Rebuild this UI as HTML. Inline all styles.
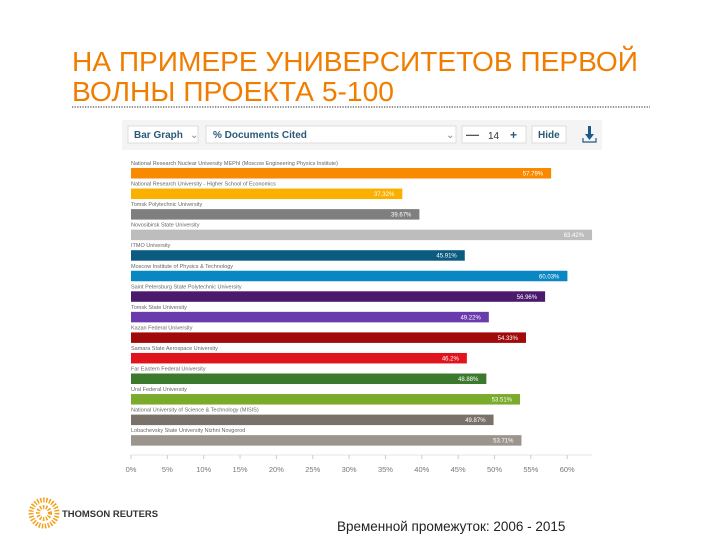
<!DOCTYPE html>
<html><head><meta charset="utf-8"><style>
html,body{margin:0;padding:0;background:#fff;}
svg{display:block;font-family:"Liberation Sans",sans-serif;}
</style></head><body>
<svg id="c" width="720" height="540" viewBox="0 0 720 540">
<g fill="#f07d00" font-size="28">
<text x="72" y="71" textLength="566" lengthAdjust="spacingAndGlyphs">НА ПРИМЕРЕ УНИВЕРСИТЕТОВ ПЕРВОЙ</text>
<text x="72" y="101" textLength="322" lengthAdjust="spacingAndGlyphs">ВОЛНЫ ПРОЕКТА 5-100</text>
</g>
<line x1="72" y1="107" x2="650" y2="107" stroke="#555" stroke-width="1.3" stroke-dasharray="1.3,1.3"/>
<g font-size="10" font-weight="bold" fill="#2a5a7a">
<rect x="122" y="120" width="480" height="30" fill="#f4f4f4"/>
<rect x="128" y="126" width="70" height="17" fill="#fff" stroke="#ddd"/>
<text x="134" y="138" fill="#2a5a7a">Bar Graph</text><text x="190" y="138" fill="#888" font-weight="normal">⌄</text>
<rect x="206" y="126" width="250" height="17" fill="#fff" stroke="#ddd"/>
<text x="213" y="138">% Documents Cited</text><text x="446" y="138" fill="#888" font-weight="normal">⌄</text>
<rect x="462" y="126" width="64" height="17" fill="#fff" stroke="#ddd"/>
<text x="466" y="139" font-size="13" fill="#555">—</text><text x="488" y="139" fill="#333" font-weight="normal">14</text><text x="510" y="139" font-size="12" fill="#2a5a7a">+</text>
<rect x="532" y="126" width="34" height="17" fill="#fff" stroke="#ddd"/>
<text x="538" y="138">Hide</text>
<g fill="#1a5a8a"><rect x="588" y="126" width="3" height="9"/><path d="M585 134 L594 134 L589.5 140Z"/><path d="M583 138 v4 h13 v-4" fill="none" stroke="#1a5a8a" stroke-width="1.2"/></g>
</g>
<g id="plot"></g>
<g>
<text x="337" y="531" font-size="13.5" fill="#222">Временной промежуток: 2006 - 2015</text>
<g>
<circle cx="44" cy="513" r="13" fill="none" stroke="#f3a21c" stroke-width="5" stroke-dasharray="1.5,1.5"/>
<circle cx="44" cy="513" r="6" fill="none" stroke="#f3a21c" stroke-width="4" stroke-dasharray="1.5,1.5"/>
<text x="62" y="517" font-size="9.5" font-weight="bold" fill="#333" textLength="96" lengthAdjust="spacingAndGlyphs">THOMSON REUTERS</text>
</g></g>
</svg>
<script>
const categories=["National Research Nuclear University MEPhI (Moscow Engineering Physics Institute)","National Research University - Higher School of Economics","Tomsk Polytechnic University","Novosibirsk State University","ITMO University","Moscow Institute of Physics & Technology","Saint Petersburg State Polytechnic University","Tomsk State University","Kazan Federal University","Samara State Aerospace University","Far Eastern Federal University","Ural Federal University","National University of Science & Technology (MISIS)","Lobachevsky State University Nizhni Novgorod"];
const values=[57.79,37.32,39.67,63.42,45.91,60.03,56.96,49.22,54.33,46.2,48.88,53.51,49.87,53.71];
const valueLabels=["57.79%","37.32%","39.67%","63.42%","45.91%","60.03%","56.96%","49.22%","54.33%","46.2%","48.88%","53.51%","49.87%","53.71%"];
const barColors=["#f98a00","#fbb000","#7f7f7f","#bdbdbd","#0b5a80","#0987c2","#4b1a6d","#6a3bab","#a10a0a","#e0141c","#3b7a2c","#7aab2a","#7a716b","#9b958d"];
const ticks=[0,5,10,15,20,25,30,35,40,45,50,55,60];
const tickLabels=["0%","5%","10%","15%","20%","25%","30%","35%","40%","45%","50%","55%","60%"];
const NS="http://www.w3.org/2000/svg";
const g=document.getElementById('plot');
const x=v=>131+v*7.27;
const rowY=i=>168+i*20.55;
function mk(t,a,txt){const e=document.createElementNS(NS,t);for(const k in a)e.setAttribute(k,a[k]);if(txt!=null)e.textContent=txt;g.appendChild(e);return e;}
values.forEach((v,i)=>{
 const l=mk('text',{x:131,y:rowY(i)-3,'font-size':'5.5',fill:'#666'},categories[i]);
 
 
 const b=mk('rect',{x:131,y:rowY(i),width:x(v)-131,height:10.5,fill:barColors[i]});
 
 
 const t=mk('text',{x:x(v)-8,y:rowY(i)+7.5,'font-size':'6',fill:'#fff','text-anchor':'end'},valueLabels[i]);
 
 
});
const ax=mk('line',{x1:131,x2:592,y1:455,y2:455,stroke:'#e4e4e4'});


ticks.forEach((v,i)=>{
 const tk=mk('line',{x1:x(v),x2:x(v),y1:455,y2:459,stroke:'#ccc'});
 
 
 const tl=mk('text',{x:x(v),y:472,'font-size':'7.5',fill:'#777','text-anchor':'middle'},tickLabels[i]);
 
 
});
</script>
</body></html>
